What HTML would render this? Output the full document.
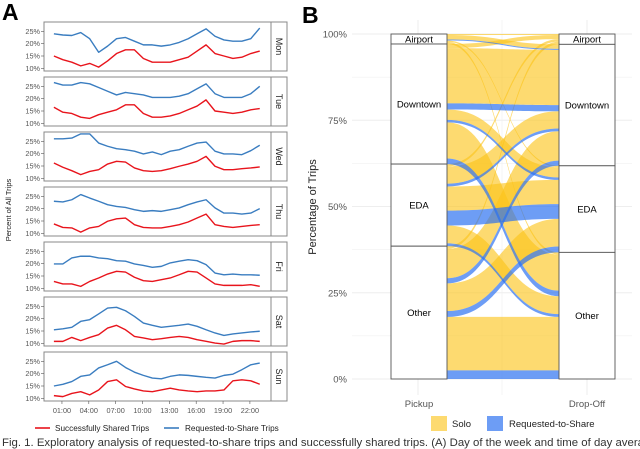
<!DOCTYPE html>
<html><head><meta charset="utf-8">
<style>
body{margin:0;background:#fff;width:640px;height:449px;overflow:hidden;position:relative;font-family:"Liberation Sans",sans-serif}
svg{position:absolute;left:0;top:0}
#cap{position:absolute;left:2px;top:437px;font-size:11.4px;color:#333;white-space:nowrap}
</style></head><body>
<svg id="chart" width="640" height="449" viewBox="0 0 640 449"></svg>
<div id="cap">Fig. 1. Exploratory analysis of requested-to-share trips and successfully shared trips. (A) Day of the week and time of day average</div>
<script>
// ---------- Panel A data ----------
const days = ["Mon","Tue","Wed","Thu","Fri","Sat","Sun"];
const hours = [0,1,2,3,4,5,6,7,8,9,10,11,12,13,14,15,16,17,18,19,20,21,22,23];
const yTicksA = [10,15,20,25];
const xTickHours = [1,4,7,10,13,16,19,22];
const xTickLabels = ["01:00","04:00","07:00","10:00","13:00","16:00","19:00","22:00"];
const rtsMon = [24,23.5,23.3,24.5,22,16.5,19,22,22.5,21,19.5,19.5,19,19.5,20.5,22,24,26,23,21.5,21,21,22,26.3];
const sharedMon = [15,13.5,12.5,11,12,10.5,13,16,17.5,17.5,14,12.5,12.5,12.5,13.5,14.5,17,19.5,16,15,14,14.5,16,17];
const rtsTue = [26.5,25.5,25.5,26.5,26,24.5,23,21.5,22.5,22,21.5,20.5,20.5,20.5,21,22,24,26,22,20.5,20.5,20.5,22,25];
const sharedTue = [16.5,14.5,14,12.5,12,13.5,14.5,15.5,17.5,17.5,14,12.5,12.5,13,14,15.5,17,19.5,15,14.5,14,14.5,15.5,16];
const rtsWed = [26,26,26.3,28,28,24.3,23,22,21.6,21,19.9,20.7,19.6,21,21.6,23,24.3,24.7,21,19.9,19.9,19.6,21.2,23.4];
const sharedWed = [16.2,14.5,13.1,11.5,12.8,13.5,15.8,16.9,16.6,14.2,13.1,12.8,13.1,13.9,14.9,15.8,16.9,18.9,14.9,13.5,13.5,13.9,14.2,14.6];
const rtsThu = [23,22.7,23.6,25.7,24.3,23,21.6,20.9,20.5,19.6,18.9,19.2,18.9,19.6,20.3,21.6,22.7,23.6,20.3,18.2,18.2,17.8,18.2,20];
const sharedThu = [13.8,12.4,12.2,10.5,12.2,12.8,14.9,15.9,16.2,13.5,12.4,12.2,12.2,12.8,13.5,14.6,16.2,17.8,13.5,12.8,12.4,12.8,13.2,13.5];
const rtsFri = [19.9,19.9,22.3,23,23,22.3,22,21.2,21,19.9,19.3,18.5,18.9,20.3,21,21.6,21.2,19.6,16.2,15.5,15.8,15.5,15.5,15.3];
const sharedFri = [12.8,11.8,11.8,10.8,12.8,14.2,15.8,16.9,16.6,14.5,13.1,12.8,13.5,14.2,15.5,16.9,16.6,14.2,11.8,11.2,11.2,11.2,11.5,10.8];
const rtsSat = [15.5,15.9,16.5,18.9,19.6,21.9,24.3,24.6,23.2,20.9,18.2,17.3,16.5,16.9,17.3,17.8,16.9,15.5,14.2,13.2,13.8,14.2,14.6,14.9];
const sharedSat = [10.8,10.8,12.4,11.1,12.4,13.5,16.2,17.3,15.5,12.8,12.2,11.5,11.9,12.4,12.8,12.4,11.5,10.8,10.1,9.7,10.8,11.1,11.1,10.8];
const rtsSun = [15,15.7,16.8,18.9,19.5,22.3,23.6,25,22.5,20.6,19.3,18.2,17.9,18.9,19.5,19.3,18.9,18.5,18.2,19.3,19.8,21.6,23.6,24.3];
const sharedSun = [11.1,10.7,12,12.7,11.4,13.4,16.8,17.5,14.8,13.8,13,12.7,13.4,14.1,13.4,13,12.7,13,13,13.4,17.1,17.5,17.1,15.7];
const rtsByDay = [rtsMon,rtsTue,rtsWed,rtsThu,rtsFri,rtsSat,rtsSun];
const sharedByDay = [sharedMon,sharedTue,sharedWed,sharedThu,sharedFri,sharedSat,sharedSun];

// ---------- Panel B data ----------
const strata = ["Airport","Downtown","EDA","Other"];
const yTicksB = [0,25,50,75,100];
const flowFrom = ["Airport","Airport","Airport","Airport","Airport",
 "Downtown","Downtown","Downtown","Downtown","Downtown","Downtown","Downtown",
 "EDA","EDA","EDA","EDA","EDA","EDA","EDA",
 "Other","Other","Other","Other","Other","Other","Other"];
const flowTo = ["Airport","Downtown","Downtown","EDA","Other",
 "Airport","Downtown","Downtown","EDA","EDA","Other","Other",
 "Airport","Downtown","Downtown","EDA","EDA","Other","Other",
 "Airport","Downtown","Downtown","EDA","EDA","Other","Other"];
const flowType = ["Solo","Solo","RTS","Solo","Solo",
 "Solo","Solo","RTS","Solo","RTS","Solo","RTS",
 "Solo","Solo","RTS","Solo","RTS","Solo","RTS",
 "Solo","Solo","RTS","Solo","RTS","Solo","RTS"];
const flowValue = [0.3,1.3,0.3,0.4,0.6,
 1.2,16,1.8,3,0.7,10.5,1.6,
 0.7,5,0.8,7,4.3,5.2,0.8,
 0.8,8.5,1.5,8,1.7,15.5,2.5];

const NS="http://www.w3.org/2000/svg";
const svg=document.getElementById('chart');
function mk(tag,attrs,parent){const e=document.createElementNS(NS,tag);for(const k in attrs)e.setAttribute(k,attrs[k]);(parent||svg).appendChild(e);return e;}
function txt(s,attrs,parent){const e=mk('text',attrs,parent);e.textContent=s;return e;}

// ---------- Panel A ----------
let t=txt("A",{x:2,y:20,'font-size':23,'font-weight':'bold',fill:'#000'});


const xA=h=>53+h*8.95;
const yA=(i,v)=>22+55*i+9.3+(25-v)*2.47;
days.forEach((d,i)=>{
  const top=22+55*i;
  const g=mk('g',{});
  
  
  mk('rect',{x:44,y:top,width:227,height:49,fill:'#fff',stroke:'#888','stroke-width':1},g);
  const s=mk('rect',{x:271,y:top,width:16,height:49,fill:'#fff',stroke:'#888','stroke-width':1},g);
  
  
  const st=txt(d,{x:0,y:0,'font-size':9,fill:'#222',transform:`translate(276,${top+24.5}) rotate(90)`,'text-anchor':'middle'},g);
  
  
  yTicksA.forEach(v=>{
    const y=yA(i,v);
    mk('line',{x1:41,x2:44,y1:y,y2:y,stroke:'#555','stroke-width':0.6},g);
    const tl=txt(v+'%',{x:40,y:y+2.5,'font-size':7.3,fill:'#555','text-anchor':'end'},g);
    
    
  });
  const mkLine=(arr,col,name)=>{
    const p=mk('polyline',{points:arr.map((v,k)=>xA(hours[k]+0.1)+','+yA(i,v)).join(' '),fill:'none',stroke:col,'stroke-width':1.4,'stroke-linejoin':'round'},g);
    
    
  };
  mkLine(rtsByDay[i],'#3a7dc0','requested-line-'+d.toLowerCase());
  mkLine(sharedByDay[i],'#e8141c','shared-line-'+d.toLowerCase());
});
xTickHours.forEach((h,k)=>{
  const x=xA(h);
  mk('line',{x1:x,x2:x,y1:401,y2:404,stroke:'#555','stroke-width':0.6});
  const tl=txt(xTickLabels[k],{x:x,y:413,'font-size':7.3,fill:'#555','text-anchor':'middle'});
  
  
});
t=txt("Percent of All Trips",{x:0,y:0,'font-size':7.5,fill:'#222','text-anchor':'middle',transform:'translate(11,210) rotate(-90)'});


// legend A
let lg=mk('g',{});


mk('line',{x1:35,x2:50,y1:428,y2:428,stroke:'#e8141c','stroke-width':1.6},lg);
txt("Successfully Shared Trips",{x:55,y:431,'font-size':8.2,fill:'#222'},lg);
mk('line',{x1:164,x2:179,y1:428,y2:428,stroke:'#3a7dc0','stroke-width':1.6},lg);
txt("Requested-to-Share Trips",{x:185,y:431,'font-size':8.2,fill:'#222'},lg);

// ---------- Panel B ----------
t=txt("B",{x:302,y:23,'font-size':23,'font-weight':'bold',fill:'#000'});


const yB=p=>379-p*3.45;
const grid=mk('g',{});


for(let p=0;p<=100;p+=12.5) mk('line',{x1:352,x2:632,y1:yB(p),y2:yB(p),stroke:'#eeeeee','stroke-width':p%25===0?1:0.6},grid);
[418,587,502].forEach(x=>{mk('line',{x1:x,x2:x,y1:20,y2:395,stroke:'#eeeeee','stroke-width':x===502?0.6:1},grid);});
yTicksB.forEach(p=>{
  const tl=txt(p+'%',{x:347,y:yB(p)+3.5,'font-size':9.5,fill:'#555','text-anchor':'end'});
  
  
});
t=txt("Percentage of Trips",{x:0,y:0,'font-size':11,fill:'#222','text-anchor':'middle',transform:'translate(316,207) rotate(-90)'});



// stacking
const typeOrder={Solo:0,RTS:1};
const idx=flowValue.map((_,k)=>k);
function stack(keyA,keyB){
  const pos={};
  const sorted=idx.slice().sort((a,b)=>{
    const sa=strata.indexOf(keyA[a]),sb=strata.indexOf(keyA[b]);
    if(sa!==sb)return sb-sa;
    const da=strata.indexOf(keyB[a]),db=strata.indexOf(keyB[b]);
    if(da!==db)return db-da;
    return typeOrder[flowType[b]]-typeOrder[flowType[a]];
  });
  let cum=0;const tot={};const low={};
  sorted.forEach(k=>{pos[k]=[cum,cum+flowValue[k]];const s=keyA[k];if(low[s]===undefined)low[s]=cum;cum+=flowValue[k];tot[s]=cum;});
  return {pos,low,tot};
}
const L=stack(flowFrom,flowTo), R=stack(flowTo,flowFrom);
const x0=447,x1=559,xm=(x0+x1)/2;
const fg=mk('g',{});


["Solo","RTS"].forEach(tp=>{
  idx.filter(k=>flowType[k]===tp).forEach(k=>{
    const [la,lb]=L.pos[k],[ra,rb]=R.pos[k];
    const d=`M${x0},${yB(lb)} C${xm},${yB(lb)} ${xm},${yB(rb)} ${x1},${yB(rb)} L${x1},${yB(ra)} C${xm},${yB(ra)} ${xm},${yB(la)} ${x0},${yB(la)} Z`;
    const p=mk('path',{d:d,fill:tp==='Solo'?'rgba(252,196,25,0.62)':'rgba(40,110,240,0.68)',stroke:'none'},fg);
    
    
  });
});
function strataCol(S,x,side){
  const g=mk('g',{});
  
  
  strata.forEach(s=>{
    const lo=S.low[s],hi=S.tot[s];
    const r=mk('rect',{x:x,y:yB(hi),width:56,height:yB(lo)-yB(hi),fill:'#fff',stroke:'#555','stroke-width':0.9},g);
    
    
    const tl=txt(s,{x:x+28,y:(yB(lo)+yB(hi))/2+3.5,'font-size':9.5,fill:'#000','text-anchor':'middle'},g);
    
    
  });
}
strataCol(L,391,'pickup');
strataCol(R,559,'dropoff');
t=txt("Pickup",{x:419,y:407,'font-size':9.5,fill:'#555','text-anchor':'middle'});


t=txt("Drop-Off",{x:587,y:407,'font-size':9.5,fill:'#555','text-anchor':'middle'});


lg=mk('g',{});


let sw=mk('rect',{x:431,y:416,width:16,height:15,fill:'rgba(252,196,25,0.62)'},lg);


txt("Solo",{x:452,y:427,'font-size':9.5,fill:'#222'},lg);
sw=mk('rect',{x:487,y:416,width:16,height:15,fill:'rgba(40,110,240,0.68)'},lg);


txt("Requested-to-Share",{x:509,y:427,'font-size':9.5,fill:'#222'},lg);
</script>
</body></html>
